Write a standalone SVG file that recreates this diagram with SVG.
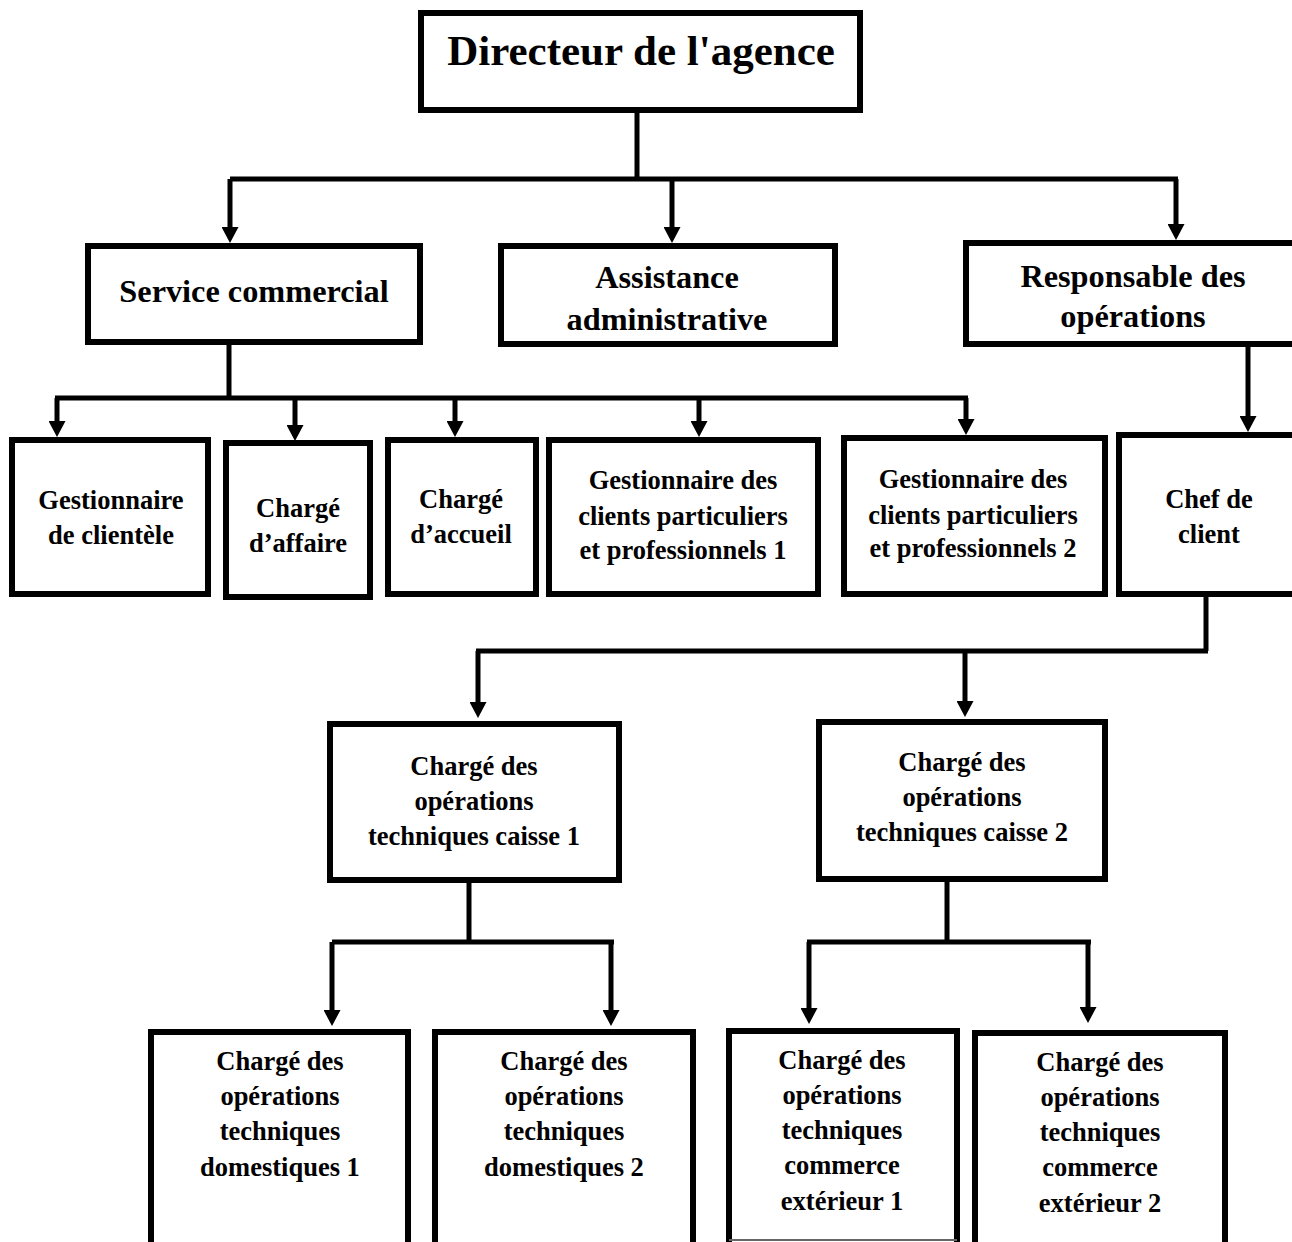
<svg xmlns="http://www.w3.org/2000/svg" width="1292" height="1242" viewBox="0 0 1292 1242">
<style>
.box{fill:#fff;stroke:#000;stroke-width:6}
.c{fill:none;stroke:#000;stroke-width:5}
text{font-family:"Liberation Serif","Times New Roman",serif;font-weight:bold;fill:#000;text-anchor:middle}
.t0{font-size:43px}
.t1{font-size:32.3px}
.t2{font-size:26.5px}
</style>
<defs>
<marker id="ah" markerUnits="userSpaceOnUse" markerWidth="16" markerHeight="17" viewBox="0 0 16 17" refX="5" refY="8.5" orient="auto">
<path d="M0,0 L16,8.5 L0,17 z" fill="#000"/>
</marker>
</defs>
<rect width="1292" height="1242" fill="#fff"/>
<g id="connectors">
<path class="c" d="M637,113 V179"/>
<path class="c" d="M230,179 H1178"/>
<path class="c" d="M230,179 V232" marker-end="url(#ah)"/>
<path class="c" d="M672,179 V232" marker-end="url(#ah)"/>
<path class="c" d="M1176,179 V229" marker-end="url(#ah)"/>
<path class="c" d="M229,345 V398"/>
<path class="c" d="M55,398 H968"/>
<path class="c" d="M57,398 V426" marker-end="url(#ah)"/>
<path class="c" d="M295,398 V430" marker-end="url(#ah)"/>
<path class="c" d="M455,398 V426" marker-end="url(#ah)"/>
<path class="c" d="M699,398 V426" marker-end="url(#ah)"/>
<path class="c" d="M966,398 V424" marker-end="url(#ah)"/>
<path class="c" d="M1248,347 V421" marker-end="url(#ah)"/>
<path class="c" d="M1206,597 V651"/>
<path class="c" d="M476,651 H1208"/>
<path class="c" d="M478,651 V707" marker-end="url(#ah)"/>
<path class="c" d="M965,651 V706" marker-end="url(#ah)"/>
<path class="c" d="M469,883 V942"/>
<path class="c" d="M332,942 H614"/>
<path class="c" d="M332,942 V1015" marker-end="url(#ah)"/>
<path class="c" d="M611,942 V1015" marker-end="url(#ah)"/>
<path class="c" d="M947,882 V942"/>
<path class="c" d="M807,942 H1091"/>
<path class="c" d="M809,942 V1013" marker-end="url(#ah)"/>
<path class="c" d="M1088,942 V1012" marker-end="url(#ah)"/>
</g>
<g id="directeur">
<rect class="box" x="421" y="13" width="439" height="97"/>
<text class="t0" x="641" y="65">Directeur de l'agence</text>
</g>
<g id="service-commercial">
<rect class="box" x="88" y="246" width="332" height="96"/>
<text class="t1" x="254" y="302">Service commercial</text>
</g>
<g id="assistance">
<rect class="box" x="501" y="246" width="334" height="98"/>
<text class="t1" x="667" y="288">Assistance</text>
<text class="t1" x="667" y="330">administrative</text>
</g>
<g id="responsable">
<rect class="box" x="966" y="243" width="340" height="101"/>
<text class="t1" x="1133" y="287">Responsable des</text>
<text class="t1" x="1133" y="327">opérations</text>
</g>
<g id="gestionnaire-clientele">
<rect class="box" x="12" y="440" width="196" height="154"/>
<text class="t2" x="111" y="509">Gestionnaire</text>
<text class="t2" x="111" y="544">de clientèle</text>
</g>
<g id="charge-affaire">
<rect class="box" x="226" y="443" width="144" height="154"/>
<text class="t2" x="298" y="517">Chargé</text>
<text class="t2" x="298" y="552">d’affaire</text>
</g>
<g id="charge-accueil">
<rect class="box" x="388" y="440" width="148" height="154"/>
<text class="t2" x="461" y="508">Chargé</text>
<text class="t2" x="461" y="543">d’accueil</text>
</g>
<g id="gestionnaire-1">
<rect class="box" x="549" y="440" width="269" height="154"/>
<text class="t2" x="683" y="489">Gestionnaire des</text>
<text class="t2" x="683" y="525">clients particuliers</text>
<text class="t2" x="683" y="559">et professionnels 1</text>
</g>
<g id="gestionnaire-2">
<rect class="box" x="844" y="438" width="261" height="156"/>
<text class="t2" x="973" y="488">Gestionnaire des</text>
<text class="t2" x="973" y="524">clients particuliers</text>
<text class="t2" x="973" y="557">et professionnels 2</text>
</g>
<g id="chef-client">
<rect class="box" x="1119" y="435" width="200" height="159"/>
<text class="t2" x="1209" y="508">Chef de</text>
<text class="t2" x="1209" y="543">client</text>
</g>
<g id="caisse-1">
<rect class="box" x="330" y="724" width="289" height="156"/>
<text class="t2" x="474" y="775">Chargé des</text>
<text class="t2" x="474" y="810">opérations</text>
<text class="t2" x="474" y="845">techniques caisse 1</text>
</g>
<g id="caisse-2">
<rect class="box" x="819" y="722" width="286" height="157"/>
<text class="t2" x="962" y="771">Chargé des</text>
<text class="t2" x="962" y="806">opérations</text>
<text class="t2" x="962" y="841">techniques caisse 2</text>
</g>
<g id="domestiques-1">
<rect class="box" x="151" y="1032" width="257" height="230"/>
<text class="t2" x="280" y="1070">Chargé des</text>
<text class="t2" x="280" y="1105">opérations</text>
<text class="t2" x="280" y="1140">techniques</text>
<text class="t2" x="280" y="1176">domestiques 1</text>
</g>
<g id="domestiques-2">
<rect class="box" x="435" y="1032" width="258" height="230"/>
<text class="t2" x="564" y="1070">Chargé des</text>
<text class="t2" x="564" y="1105">opérations</text>
<text class="t2" x="564" y="1140">techniques</text>
<text class="t2" x="564" y="1176">domestiques 2</text>
</g>
<g id="commerce-1">
<rect class="box" x="729" y="1031" width="228" height="231"/>
<line x1="729" y1="1240" x2="957" y2="1240" stroke="#666" stroke-width="2"/>
<text class="t2" x="842" y="1069">Chargé des</text>
<text class="t2" x="842" y="1104">opérations</text>
<text class="t2" x="842" y="1139">techniques</text>
<text class="t2" x="842" y="1174">commerce</text>
<text class="t2" x="842" y="1210">extérieur 1</text>
</g>
<g id="commerce-2">
<rect class="box" x="975" y="1033" width="250" height="229"/>
<text class="t2" x="1100" y="1071">Chargé des</text>
<text class="t2" x="1100" y="1106">opérations</text>
<text class="t2" x="1100" y="1141">techniques</text>
<text class="t2" x="1100" y="1176">commerce</text>
<text class="t2" x="1100" y="1212">extérieur 2</text>
</g>
</svg>
